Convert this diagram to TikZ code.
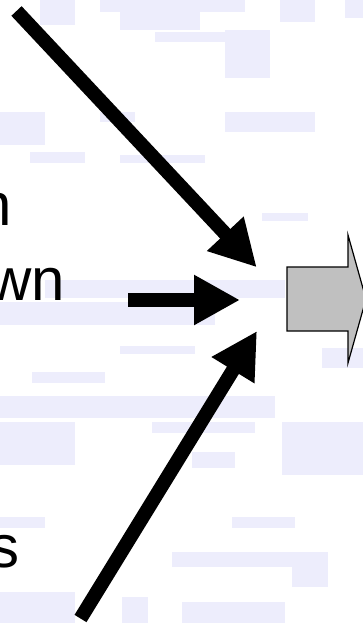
\documentclass[tikz,border=0pt]{standalone}
\usepackage{fontspec}
\setmainfont{Liberation Sans}
\usetikzlibrary{arrows.meta}
\definecolor{bgpatch}{RGB}{237,237,252}
\definecolor{blockgray}{RGB}{192,192,192}
\begin{document}
\begin{tikzpicture}[x=1pt,y=-1pt,
  bigarrow/.style={line width=14pt,-{Triangle[length=46pt,width=47pt]}},
  patch/.style={fill=bgpatch,draw=none},
  word/.style={inner sep=0pt,anchor=base east,font=\fontsize{60}{60}\selectfont}]
\useasboundingbox (0,0) rectangle (363,623);
\fill[white] (0,0) rectangle (363,623);
% background speckle
\foreach \a/\b/\c/\d in {40/0/75/25, 100/0/245/12, 120/12/200/30, 155/32/225/42,
  225/30/270/78, 280/0/315/22, 345/0/363/18, 0/112/45/145, 100/112/135/122,
  225/112/315/132, 30/152/85/163, 120/155/205/163, 262/213/308/221,
  45/280/285/298, 0/302/215/325, 120/346/195/354, 32/372/105/383,
  0/396/275/418, 322/348/363/368, 0/422/75/465, 152/422/255/433,
  192/452/235/468, 282/422/363/475, 0/517/45/528, 172/552/295/567,
  232/517/295/528, 292/552/328/587, 0/592/75/623, 122/597/148/623,
  182/602/285/623}
  \fill[patch] (\a,\b) rectangle (\c,\d);
% arrows
\coordinate (t1) at (16.5,11);   \coordinate (h1) at (256.7,267.3);
\coordinate (t2) at (128,300);   \coordinate (h2) at (240,300);
\coordinate (t3) at (80.5,618.5); \coordinate (h3) at (257,331);
\draw[bigarrow] (t1) -- (h1);
\draw[bigarrow] (t2) -- (h2);
\draw[bigarrow] (t3) -- (h3);
% block arrow
\draw[fill=blockgray, line width=1.2pt, line join=miter]
  (287,267) -- (348,267) -- (348,235) -- (366,299) -- (348,363) -- (348,331) -- (287,331) -- cycle;
% words
\node[word] (w1) at (12,225) {n};
\node[word] (w2) at (65,300) {wn};
\node[word] (w3) at (20,567) {s};
\end{tikzpicture}
\end{document}
